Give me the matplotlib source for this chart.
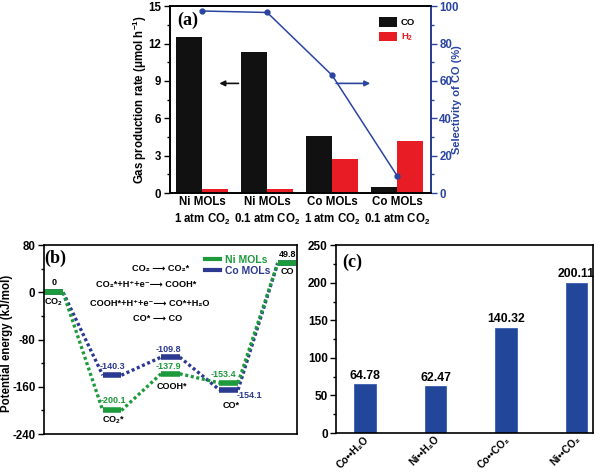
import numpy as np
import matplotlib
matplotlib.use('Agg')
import matplotlib.pyplot as plt
from matplotlib.lines import Line2D
from matplotlib.ticker import MultipleLocator

plt.rcParams.update({
    'font.family': 'Liberation Sans',
    'font.weight': 'bold',
    'axes.labelweight': 'bold',
    'font.size': 8.3,
    'mathtext.fontset': 'custom',
    'mathtext.rm': 'Liberation Sans:bold',
    'mathtext.it': 'Liberation Sans:bold',
    'mathtext.bf': 'Liberation Sans:bold',
    'axes.unicode_minus': False,
    'axes.linewidth': 1.2,
})

# ---- data (a) ----
cond_labels = ['Ni MOLs\n1 atm CO$_2$', 'Ni MOLs\n0.1 atm CO$_2$',
               'Co MOLs\n1 atm CO$_2$', 'Co MOLs\n0.1 atm CO$_2$']
co_rate = [12.5, 11.3, 4.6, 0.45]
h2_rate = [0.3, 0.35, 2.7, 4.15]
co_select = [97.4, 96.6, 63.0, 9.3]

# ---- data (b) ----
states = ['CO$_2$', 'CO$_2$*', 'COOH*', 'CO*', 'CO']
ni_energy = [0, -200.1, -137.9, -153.4, 49.8]
co_energy = [0, -140.3, -109.8, -165.0, 49.8]
ni_text = ['0', '-200.1', '-137.9', '-153.4', '49.8']
co_text = ['', '-140.3', '-109.8', '-154.1', '']
reactions = ['CO₂ ⟶ CO₂*',
             'CO₂*+H⁺+e⁻⟶ COOH*',
             'COOH*+H⁺+e⁻⟶ CO*+H₂O',
             'CO* ⟶ CO']

# ---- data (c) ----
ads_labels = ['Co••H₂O', 'Ni••H₂O', 'Co••CO₂', 'Ni••CO₂']
ads_energy = [64.78, 62.47, 140.32, 200.11]

black = '#111111'
red = '#e81c24'
blue = '#2a45a0'
green = '#1c9a3c'
navy = '#2b3990'
serif = 'Liberation Serif'
fam = ['Liberation Sans', 'DejaVu Sans']

fig = plt.figure(figsize=(6, 4.72), dpi=100)

# ================= (a) =================
ax = fig.add_axes([0.283, 0.591, 0.435, 0.396])
x = np.arange(len(cond_labels))
w = 0.4
ax.bar(x - w / 2, co_rate, w, color=black, label='CO')
ax.bar(x + w / 2, h2_rate, w, color=red, label='H$_2$')
ax.set_xlim(-0.5, 3.52)
ax.set_ylim(0, 15)
ax.set_xticks(x)
ax.set_xticklabels(cond_labels, fontsize=8.3, linespacing=1.35)
ax.tick_params(axis='x', length=0, pad=2)
ax.yaxis.set_major_locator(MultipleLocator(3))
ax.yaxis.set_minor_locator(MultipleLocator(1.5))
ax.tick_params(axis='y', which='major', length=4, width=1, labelsize=8.3, pad=2)
ax.tick_params(axis='y', which='minor', length=2, width=1)
ax.set_ylabel('Gas production rate (μmol h$^{-1}$)', fontsize=8.3)
ax.yaxis.set_label_coords(-0.08, 0.5)
ax.text(0.027, 0.925, '(a)', transform=ax.transAxes, fontsize=13,
        family=serif, fontweight='bold', va='center')
leg = ax.legend(loc='upper left', bbox_to_anchor=(0.77, 0.985), frameon=False,
                fontsize=6.8, handlelength=1.9, handleheight=1.1,
                labelspacing=0.5, handletextpad=0.4)
leg.get_texts()[1].set_color(red)
ax.annotate('', xy=(0.22, 8.8), xytext=(0.6, 8.8),
            arrowprops=dict(arrowstyle='-|>', color=black, lw=1.2,
                            mutation_scale=8))
ax.annotate('', xy=(2.63, 8.8), xytext=(2.02, 8.8),
            arrowprops=dict(arrowstyle='-|>', color=blue, lw=1.2,
                            mutation_scale=8))

ax2 = ax.twinx()
ax2.plot(x, co_select, '-o', color=blue, lw=1.1, ms=3.5)
ax2.set_ylim(0, 100)
ax2.yaxis.set_major_locator(MultipleLocator(20))
ax2.yaxis.set_minor_locator(MultipleLocator(10))
ax2.tick_params(axis='y', which='major', length=4, width=1, colors=blue,
                labelsize=8.3, pad=2)
ax2.tick_params(axis='y', which='minor', length=2, width=1, colors=blue)
ax2.spines['right'].set_color(blue)
ax2.set_ylabel('Selectivity of CO (%)', color=blue, fontsize=8)
ax2.yaxis.set_label_coords(1.08, 0.5)

# ================= (b) =================
bx = fig.add_axes([0.073, 0.0805, 0.422, 0.400])
pos = np.arange(len(states))
hw = 0.16
for vals, col in [(co_energy, navy), (ni_energy, green)]:
    for i in range(len(pos)):
        bx.plot([pos[i] - hw, pos[i] + hw], [vals[i], vals[i]], color=col,
                lw=4, solid_capstyle='butt')
    for i in range(len(pos) - 1):
        bx.plot([pos[i] + hw, pos[i + 1] - hw], [vals[i], vals[i + 1]],
                color=col, lw=2.4, ls=(0, (0.9, 0.8)), dash_capstyle='butt')
bx.set_xlim(-0.17, 4.17)
bx.set_ylim(-240, 80)
bx.set_xticks([])
bx.yaxis.set_major_locator(MultipleLocator(80))
bx.yaxis.set_minor_locator(MultipleLocator(40))
bx.tick_params(axis='y', which='major', length=4, width=1, labelsize=8.3, pad=2)
bx.tick_params(axis='y', which='minor', length=2, width=1)
bx.set_ylabel('Potential energy (kJ/mol)', fontsize=8.3)
bx.yaxis.set_label_coords(-0.123, 0.48)

fs = 6.5
# state names
bx.text(pos[0], -17, states[0], ha='center', va='center', fontsize=fs)
bx.text(pos[1] + 0.02, -216, states[1], ha='center', va='center', fontsize=fs)
bx.text(pos[2] + 0.03, -160, states[2], ha='center', va='center', fontsize=fs)
bx.text(pos[3] + 0.04, -192, states[3], ha='center', va='center', fontsize=fs)
bx.text(pos[4], 35, states[4], ha='center', va='center', fontsize=fs)
# energies
bx.text(pos[0], 17, ni_text[0], ha='center', va='center', fontsize=fs)
bx.text(pos[1] + 0.03, ni_energy[1] + 17, ni_text[1], ha='center',
        va='center', fontsize=fs, color=green)
bx.text(pos[1], co_energy[1] + 14, co_text[1], ha='center',
        va='center', fontsize=fs, color=navy)
bx.text(pos[2] - 0.04, ni_energy[2] + 12, ni_text[2], ha='center',
        va='center', fontsize=fs, color=green)
bx.text(pos[2] - 0.04, co_energy[2] + 13, co_text[2], ha='center',
        va='center', fontsize=fs, color=navy)
bx.text(pos[3] - 0.09, ni_energy[3] + 14, ni_text[3], ha='center',
        va='center', fontsize=fs, color=green)
bx.text(pos[3] + 0.36, co_energy[3] - 10, co_text[3], ha='center',
        va='center', fontsize=fs, color=navy)
bx.text(pos[4], ni_energy[4] + 14, ni_text[4], ha='center', va='center',
        fontsize=fs)

rx = [0.46, 0.405, 0.42, 0.45]
ry = [0.878, 0.794, 0.693, 0.614]
for t, xx, yy in zip(reactions, rx, ry):
    bx.text(xx, yy, t, transform=bx.transAxes, ha='center', va='center',
            fontsize=6.6, family=fam)

bx.text(0.0, 0.93, '(b)', transform=bx.transAxes, fontsize=13,
        family=serif, fontweight='bold', va='center')
handles = [Line2D([], [], color=green, lw=3), Line2D([], [], color=navy, lw=3)]
lg = bx.legend(handles, ['Ni MOLs', 'Co MOLs'], loc='upper left',
               bbox_to_anchor=(0.6, 1.0), frameon=False, fontsize=7.5,
               handlelength=1.4, handletextpad=0.5, labelspacing=0.15)
lg.get_texts()[0].set_color(green)
lg.get_texts()[1].set_color(navy)

# ================= (c) =================
cx = fig.add_axes([0.56, 0.0826, 0.428, 0.398])
xc = np.arange(len(ads_labels))
cx.bar(xc, ads_energy, 0.3, color='#22479a', edgecolor='#3a5db0', lw=0.6)
for xi, v in zip(xc, ads_energy):
    cx.text(xi, v + 3, f'{v:.2f}', ha='center', va='bottom', fontsize=8.8)
cx.set_xlim(-0.41, 3.23)
cx.set_ylim(0, 250)
cx.set_xticks(xc)
cx.set_xticklabels([])
cx.tick_params(axis='x', length=0)
for xi, lab in zip(xc, ads_labels):
    cx.annotate(lab, xy=(xi, 0), xycoords=('data', 'axes fraction'),
                xytext=(4, -1), textcoords='offset points', rotation=45,
                ha='right', va='top', fontsize=7.4, family=fam)
cx.yaxis.set_major_locator(MultipleLocator(50))
cx.yaxis.set_minor_locator(MultipleLocator(25))
cx.tick_params(axis='y', which='major', length=4, width=1, labelsize=8.5, pad=2)
cx.tick_params(axis='y', which='minor', length=2, width=1)
cx.text(0.025, 0.91, '(c)', transform=cx.transAxes, fontsize=13,
        family=serif, fontweight='bold', va='center')

fig.savefig('out.png', dpi=100)
